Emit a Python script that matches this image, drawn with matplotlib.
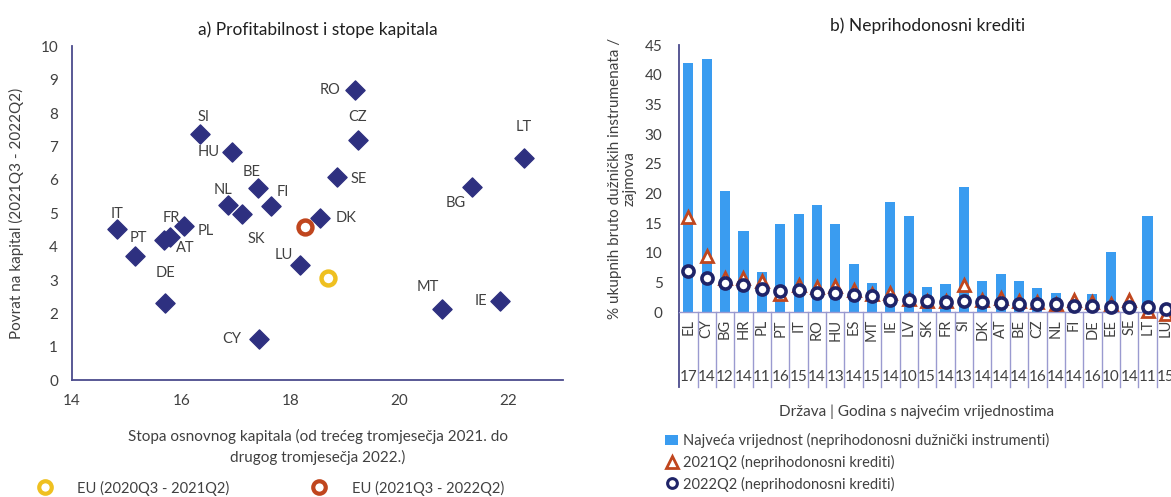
import matplotlib
matplotlib.use("Agg")
import matplotlib.pyplot as plt
from matplotlib.lines import Line2D
from matplotlib.patches import Patch
import matplotlib.transforms as mtrans

plt.rcParams['font.family'] = ['Lato', 'DejaVu Sans']

# a) capital ratio vs return on capital
countries = ["IT", "PT", "FR", "AT", "PL", "DE", "SI", "HU", "BE", "FI", "NL", "SK",
             "LU", "DK", "SE", "CZ", "RO", "LT", "BG", "MT", "IE", "CY"]
cet1 = [14.83, 15.16, 15.80, 15.68, 16.05, 15.71, 16.34, 16.94, 17.41, 17.64, 16.85, 17.12,
        18.18, 18.54, 18.85, 19.24, 19.19, 22.28, 21.33, 20.78, 21.85, 17.43]
roe = [4.52, 3.71, 4.28, 4.19, 4.61, 2.30, 7.36, 6.83, 5.74, 5.21, 5.24, 4.99,
       3.44, 4.87, 6.07, 7.19, 8.68, 6.64, 5.79, 2.13, 2.37, 1.23]
eu_prev = (18.69, 3.05)
eu_curr = (18.27, 4.59)

# b) non-performing loans
npl_countries = ["EL", "CY", "BG", "HR", "PL", "PT", "IT", "RO", "HU", "ES", "MT", "IE", "LV", "SK",
                 "FR", "SI", "DK", "AT", "BE", "CZ", "NL", "FI", "DE", "EE", "SE", "LT", "LU"]
peak_years = ["17", "14", "12", "14", "11", "16", "15", "14", "13", "14", "15", "14", "10", "15",
              "14", "13", "14", "14", "14", "16", "14", "14", "16", "10", "14", "11", "15"]
peak_value = [42.0, 42.7, 20.4, 13.7, 6.7, 14.8, 16.5, 18.1, 14.8, 8.1, 4.9, 18.5, 16.2, 4.2,
              4.8, 21.1, 5.3, 6.4, 5.3, 4.1, 3.3, 1.5, 3.0, 10.2, 1.5, 16.2, 1.0]
npl_2021q2 = [16.0, 9.4, 5.8, 5.7, 5.2, 3.0, 4.5, 4.2, 4.4, 3.8, 3.0, 3.2, 2.2, 1.9,
              1.9, 4.5, 2.0, 2.3, 1.9, 1.7, 1.3, 2.1, 1.7, 1.3, 2.0, 0.2, -0.3]
npl_2022q2 = [7.0, 5.8, 4.9, 4.6, 3.9, 3.6, 3.7, 3.2, 3.3, 2.9, 2.7, 2.0, 2.0, 1.9,
              1.7, 1.8, 1.7, 1.6, 1.4, 1.4, 1.3, 1.0, 1.0, 0.9, 0.9, 0.9, 0.6]

# label offsets for the scatter, in pixels
label_offsets = {
    "IT": (0, 15), "PT": (3, 18), "FR": (1, 19), "AT": (22, -8), "PL": (22, -5),
    "DE": (0, 30), "SI": (4, 17), "HU": (-24, 0), "BE": (-7, 16), "FI": (12, 14),
    "NL": (-5, 15), "SK": (14, -25), "LU": (-16, 10), "DK": (26, 0), "SE": (22, -2),
    "CZ": (0, 23), "RO": (-25, 0), "LT": (0, 31), "BG": (-16, -16), "MT": (-14, 22),
    "IE": (-20, 0), "CY": (-27, 0),
}

navy = "#2e3080"
spine_col = "#4b4b8c"
text_col = "#404040"
yellow = "#efc020"
red = "#c0461e"
bar_blue = "#3a9cf0"
grid_col = "#9a9ad0"

fig = plt.figure(figsize=(11.71, 4.97), dpi=100)

# ---- left panel ----
ax1 = fig.add_axes([0.0615, 0.235, 0.4195, 0.672])
ax1.scatter(cet1, roe, marker="D", s=95, color=navy, zorder=3)
ax1.plot(*eu_prev, marker="o", ms=10, mfc="white", mec=yellow, mew=3.2, ls="none", zorder=4)
ax1.plot(*eu_curr, marker="o", ms=10, mfc="white", mec=red, mew=3.2, ls="none", zorder=4)
for c, x, y in zip(countries, cet1, roe):
    dx, dy = label_offsets[c]
    ax1.annotate(c, (x, y), xytext=(dx, dy), textcoords="offset pixels",
                 ha="center", va="center", fontsize=10.5, color=text_col)
ax1.set_xlim(14, 23)
ax1.set_ylim(0, 10)
ax1.set_xticks([14, 16, 18, 20, 22])
ax1.set_yticks(range(0, 11))
for s in ["top", "right"]:
    ax1.spines[s].set_visible(False)
for s in ["left", "bottom"]:
    ax1.spines[s].set_color(spine_col)
    ax1.spines[s].set_linewidth(1.3)
ax1.tick_params(length=0, labelsize=11, colors=text_col, pad=10)
ax1.set_title("a) Profitabilnost i stope kapitala", fontsize=12.5, color="#202020", pad=8)
ax1.set_xlabel("Stopa osnovnog kapitala (od trećeg tromjesečja 2021. do\ndrugog tromjesečja 2022.)",
               fontsize=11, color=text_col, labelpad=15, linespacing=1.5)
ax1.set_ylabel("Povrat na kapital (2021Q3 - 2022Q2)", fontsize=11, color=text_col, labelpad=12)

leg1_handles = [
    Line2D([], [], marker="o", ms=9, mfc="white", mec=yellow, mew=3, ls="none"),
    Line2D([], [], marker="o", ms=9, mfc="white", mec=red, mew=3, ls="none"),
]
fig.legend(leg1_handles, ["EU (2020Q3 - 2021Q2)", "EU (2021Q3 - 2022Q2)"],
           loc="center", bbox_to_anchor=(0.228, 0.018), ncol=2, frameon=False,
           fontsize=10.5, columnspacing=5.2, handletextpad=1.2, labelcolor=text_col)

# ---- right panel ----
ax2 = fig.add_axes([0.58, 0.372, 0.4235, 0.537])
xs = list(range(len(npl_countries)))
ax2.bar(xs, peak_value, width=0.55, color=bar_blue, zorder=2)
ax2.plot(xs, npl_2021q2, marker="^", ms=9, mfc="white", mec=red, mew=2, ls="none", zorder=3,
         clip_on=False)
ax2.plot(xs, npl_2022q2, marker="o", ms=8, mfc="white", mec="#1f2468", mew=2.6, ls="none", zorder=4,
         clip_on=False)
ax2.set_xlim(-0.5, len(npl_countries) - 0.5)
ax2.set_ylim(0, 45)
ax2.set_yticks(range(0, 46, 5))
ax2.set_xticks(xs)
ax2.set_xticklabels(npl_countries, rotation=90, fontsize=10.5, color=text_col)
ax2.tick_params(axis="x", length=0, pad=5)
ax2.tick_params(axis="y", length=0, labelsize=11, colors=text_col, pad=12)
for s in ["top", "right"]:
    ax2.spines[s].set_visible(False)
ax2.spines["left"].set_color(spine_col)
ax2.spines["left"].set_linewidth(1.3)
ax2.spines["left"].set_bounds(0, 45)
ax2.spines["bottom"].set_color(grid_col)
ax2.spines["bottom"].set_linewidth(1.0)

# table-like category boxes below the axis
trans = mtrans.blended_transform_factory(ax2.transData, ax2.transAxes)
for i in range(len(npl_countries) + 1):
    col = spine_col if i == 0 else grid_col
    lw = 1.3 if i == 0 else 1.0
    ax2.plot([i - 0.5, i - 0.5], [0, -0.281], transform=trans, color=col, lw=lw, clip_on=False)
for i, yr in enumerate(peak_years):
    ax2.text(i, -0.243, yr, transform=trans, ha="center", va="center", fontsize=11, color=text_col)

ax2.set_title("b) Neprihodonosni krediti", fontsize=12.5, color="#202020", pad=10)
ax2.set_ylabel("% ukupnih bruto dužničkih instrumenata /\nzajmova", fontsize=11, color=text_col,
               labelpad=6, linespacing=1.0)
fig.text(0.783, 0.171, "Država | Godina s najvećim vrijednostima", ha="center", va="center",
         fontsize=11, color=text_col)

leg2_handles = [
    Patch(facecolor=bar_blue, edgecolor="none"),
    Line2D([], [], marker="^", ms=8, mfc="white", mec=red, mew=2, ls="none"),
    Line2D([], [], marker="o", ms=7, mfc="white", mec="#1f2468", mew=2.2, ls="none"),
]
fig.legend(leg2_handles,
           ["Najveća vrijednost (neprihodonosni dužnički instrumenti)",
            "2021Q2 (neprihodonosni krediti)",
            "2022Q2 (neprihodonosni krediti)"],
           loc="upper left", bbox_to_anchor=(0.563, 0.14), frameon=False, fontsize=10.5,
           handlelength=0.9, handletextpad=0.3, labelspacing=0.45, labelcolor=text_col,
           borderaxespad=0)

fig.savefig("out.png", dpi=100)
plt.close(fig)
